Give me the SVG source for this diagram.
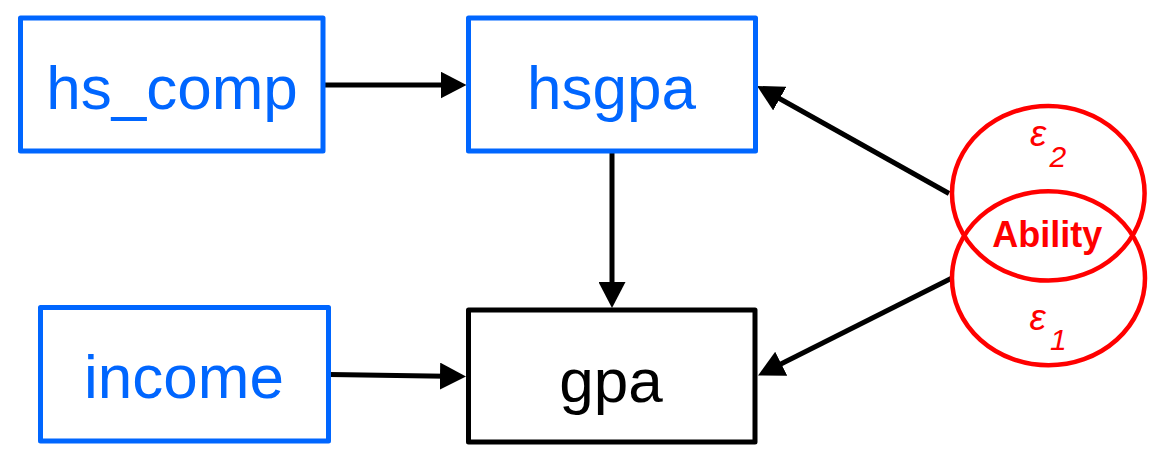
<svg xmlns="http://www.w3.org/2000/svg" width="1153" height="455" viewBox="0 0 1153 455">
  <style>
    .obs { fill: #ffffff; stroke: #0066FF; stroke-width: 5; stroke-linejoin: round; }
    .out { fill: #ffffff; stroke: #000000; stroke-width: 5; stroke-linejoin: round; }
    .lbl { font-family: "Liberation Sans", Arial, sans-serif; font-size: 62px; text-anchor: middle; }
    .blue { fill: #0066FF; }
    .blk { fill: #000000; }
    .err { fill: none; stroke: #FF0000; stroke-width: 4.5; }
    .red { fill: #FF0000; font-family: "Liberation Sans", Arial, sans-serif; }
    .edge { stroke: #000000; stroke-width: 5; fill: none; marker-end: url(#arrow); }
  </style>
  <defs>
    <marker id="arrow" markerUnits="userSpaceOnUse" markerWidth="26" markerHeight="27" refX="6" refY="13.5" orient="auto" viewBox="0 0 26 27">
      <path d="M0,0 L26,13.5 L0,27 Z" fill="#000000"/>
    </marker>
  </defs>
  <rect width="1153" height="455" fill="#ffffff"/>

  <g id="connectors">
    <line class="edge" x1="324" y1="85" x2="446.5" y2="85"/>
    <line class="edge" x1="612" y1="153" x2="612" y2="288"/>
    <line class="edge" x1="330" y1="374.5" x2="446" y2="376.2"/>
    <line class="edge" x1="949" y1="193.5" x2="774.5" y2="95.7"/>
    <line class="edge" x1="952" y1="278" x2="775.9" y2="366.5"/>
  </g>

  <g id="hs_comp">
    <rect class="obs" x="20.5" y="18" width="302.5" height="133"/>
    <text class="lbl blue" x="172" y="109">hs_comp</text>
  </g>
  <g id="hsgpa">
    <rect class="obs" x="468.5" y="18" width="287" height="133"/>
    <text class="lbl blue" x="611.5" y="109">hsgpa</text>
  </g>
  <g id="income">
    <rect class="obs" x="40.5" y="307.5" width="288" height="133.5"/>
    <text class="lbl blue" x="184" y="398">income</text>
  </g>
  <g id="gpa">
    <rect class="out" x="468.5" y="310" width="286.5" height="132"/>
    <text class="lbl blk" x="611" y="401.5">gpa</text>
  </g>

  <g id="ability">
    <ellipse class="err" cx="1048.3" cy="193.3" rx="96.3" ry="87.3"/>
    <ellipse class="err" cx="1048.5" cy="278.2" rx="96.5" ry="87"/>
    <text class="red" x="1047.2" y="246.7" font-size="36" font-weight="bold" text-anchor="middle">Ability</text>
    <text class="red" x="1030" y="146" font-size="37" font-style="italic">ε</text>
    <text class="red" x="1049.5" y="167" font-size="30" font-style="italic">2</text>
    <text class="red" x="1029.5" y="330" font-size="37" font-style="italic">ε</text>
    <text class="red" x="1050" y="349.5" font-size="30" font-style="italic">1</text>
  </g>
</svg>
